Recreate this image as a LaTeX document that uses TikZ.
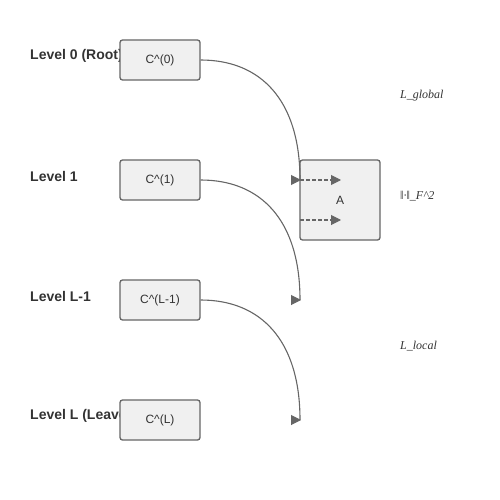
\documentclass[tikz,border=0pt]{standalone}
\usepackage{fontspec}
\setmainfont{Liberation Serif}
\setsansfont{Liberation Sans}
\usetikzlibrary{arrows.meta}
\colorlet{edgeGray}{black!60}
\colorlet{boxFill}{black!6}
\colorlet{inkText}{black!80}
\tikzset{
  levelbox/.style={draw=edgeGray,fill=boxFill,rounded corners=2.5pt,line width=1.3pt,
    minimum width=80pt,minimum height=40pt,inner sep=0pt,
    font=\sffamily\fontsize{12}{14}\selectfont,text=inkText},
  levellabel/.style={anchor=west,inner sep=0pt,text=inkText,
    font=\sffamily\bfseries\fontsize{14}{16}\selectfont},
  losslabel/.style={anchor=west,inner sep=0pt,text=inkText,
    font=\itshape\fontsize{12}{14}\selectfont},
  link/.style={draw=edgeGray,line width=1.1pt},
  headtip/.style={draw=edgeGray,fill=edgeGray,line width=1pt,
    -{Triangle[length=10pt,width=10pt]}},
}
\begin{document}
\begin{tikzpicture}[x=1pt,y=-1pt]
\useasboundingbox (0,0) rectangle (500,500);
% levels: label first, box over it
\foreach \yy/\lvl/\cname/\nm in {60/Level 0 (Root)/C\^{}(0)/c0,
    180/Level 1/C\^{}(1)/c1, 300/Level L-1/C\^{}(L-1)/c2,
    420/Level L (Leaves)/C\^{}(L)/c3}
{
  \node[levellabel] (lab\nm) at (30,\yy-4) {\lvl};
  \node[levelbox] (\nm) at (160,\yy) {\raisebox{-1.5pt}{\cname}};
}
% aggregation box
\node[levelbox,minimum height=80pt] (a) at (340,200) {\raisebox{-6pt}{A}};
\coordinate (in0) at (300,180);
\coordinate (in1) at (300,300);
\coordinate (in2) at (300,420);
\coordinate (inB) at (300,220);
\coordinate (out0) at (341,180);
\coordinate (outB) at (341,220);
% curved links
\draw[link] (c0.east) .. controls +(60,0) and (300,100) .. (in0);
\draw[link] (c1.east) .. controls +(60,0) and (300,220) .. (in1);
\draw[link] (c2.east) .. controls +(60,0) and (300,340) .. (in2);
\foreach \p in {in0,in1,in2}
  \draw[headtip] ([xshift=-9pt]\p) -- ([xshift=1pt]\p);
% dashed inner arrows
\draw[edgeGray,line width=1.1pt,dash pattern=on 4pt off 2pt] (in0) -- ([xshift=-8pt]out0);
\draw[edgeGray,line width=1.1pt,dash pattern=on 4pt off 2pt] (inB) -- ([xshift=-8pt]outB);
\draw[headtip] ([xshift=-9pt]out0) -- (out0);
\draw[headtip] ([xshift=-9pt]outB) -- (outB);
% loss labels
\node[losslabel] (lglob) at (400,96) {L\_global};
\node[losslabel] (lnorm) at (400,196) {‖·‖\_F\^{}2};
\node[losslabel] (lloc) at (400,346) {L\_local};
\end{tikzpicture}
\end{document}
